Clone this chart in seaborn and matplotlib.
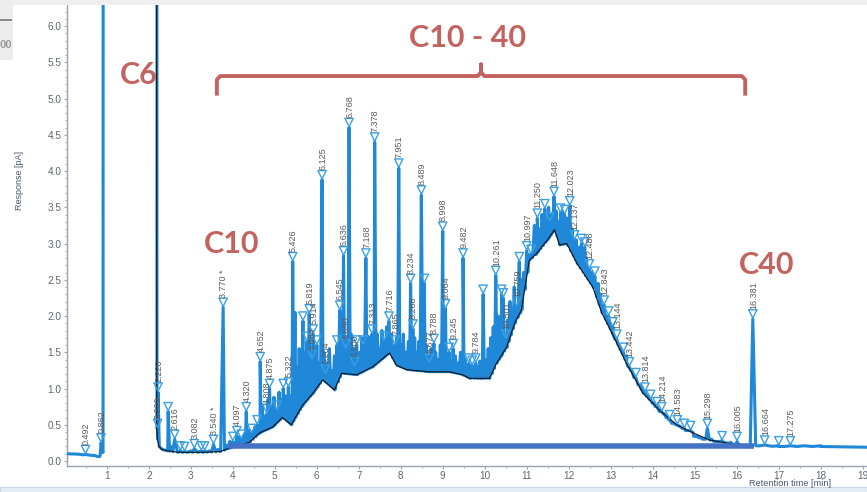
import numpy as np
import pandas as pd
import matplotlib
matplotlib.use("Agg")
import matplotlib.pyplot as plt
import matplotlib.transforms as mtransforms
from matplotlib import font_manager
from matplotlib.patches import Rectangle
import seaborn as sns

# ---------------------------------------------------------------------------
# Chromatogram data (retention time in min, response in pA)
# ---------------------------------------------------------------------------
# Valley line / integration baseline under the signal
floor_t = [0.05, 0.30, 0.45, 0.60, 0.72, 0.78, 0.84, 0.91, 0.925, 2.175, 2.185,
           2.20, 2.215, 2.25, 2.32, 2.45, 2.70, 3.30, 3.70, 3.80, 3.94, 4.20,
           4.41, 4.65, 4.96, 5.19, 5.36, 5.40, 5.67, 5.91, 6.15, 6.43, 6.60,
           6.96, 7.34, 7.74, 7.91, 8.15, 8.69, 9.17, 9.48, 9.65, 10.12, 10.29,
           10.53, 10.72, 10.88, 11.07, 11.24, 11.50, 11.67, 11.79, 11.96, 12.20,
           12.58, 12.79, 13.05, 13.38, 13.77, 14.17, 14.58, 14.96, 15.36, 15.84,
           16.24, 16.32, 16.45, 17.00, 18.00, 19.10]
floor_y = [0.10, 0.095, 0.085, 0.08, 0.075, 0.06, 0.065, 0.12, 40.0, 40.0, 40.0,
           0.45, 0.30, 0.20, 0.16, 0.14, 0.12, 0.12, 0.13, 0.15, 0.18, 0.22,
           0.26, 0.39, 0.47, 0.60, 0.52, 0.50, 0.77, 0.93, 1.12, 0.98, 1.21,
           1.19, 1.30, 1.49, 1.32, 1.26, 1.23, 1.23, 1.19, 1.14, 1.14, 1.35,
           1.57, 1.90, 2.08, 2.77, 2.86, 3.05, 3.19, 2.98, 3.00, 2.73,
           2.40, 2.05, 1.75, 1.35, 0.94, 0.70, 0.50, 0.39, 0.29, 0.24,
           0.20, 0.20, 0.21, 0.20, 0.20, 0.19]

# Peaks reported with a retention-time label
peak_label = ["0.492", "0.862", "2.209", "2.220", "2.616", "3.082", "3.540 *",
              "3.770 *", "4.097", "4.320", "4.652", "4.808", "4.875", "5.322",
              "5.426", "5.819", "5.884", "5.914", "6.125", "6.204", "6.545",
              "6.636", "6.690", "6.768", "6.900", "7.168", "7.313", "7.378",
              "7.716", "7.865", "7.951", "8.234", "8.288", "8.489", "8.677",
              "8.788", "8.998", "9.064", "9.245", "9.482", "9.784", "10.261",
              "10.501", "10.759", "10.997", "11.250", "11.648", "12.023",
              "12.137", "12.488", "12.843", "13.144", "13.442", "13.814",
              "14.214", "14.583", "15.298", "16.005", "16.381", "16.664",
              "17.275"]
peak_h = [0.09, 0.25, 0.45, 0.95, 0.30, 0.17, 0.23,
          2.12, 0.35, 0.68, 1.37, 0.65, 1.00, 1.02,
          2.75, 2.03, 1.40, 1.75, 3.88, 1.20, 2.08,
          2.83, 1.55, 4.60, 1.30, 2.80, 1.75, 4.40,
          1.93, 1.60, 4.04, 2.45, 1.82, 3.67, 1.35,
          1.62, 3.17, 2.10, 1.55, 2.80, 1.35, 2.56,
          1.68, 2.13, 2.90, 3.35, 3.65, 3.52,
          3.05, 2.65, 2.15, 1.68, 1.30, 0.95,
          0.68, 0.50, 0.45, 0.27, 1.96, 0.22,
          0.21]

# Peaks flagged by the integrator without a readable label
flag_t = [2.46, 2.75, 2.85, 3.25, 3.33, 4.00, 4.20, 4.45, 4.58, 5.05, 5.20,
          5.67, 5.76, 6.00, 6.48, 6.95, 7.10, 7.60, 8.56, 9.15, 9.62, 9.70,
          9.96, 10.40, 10.44, 10.82, 11.10, 11.43, 11.55, 11.80, 11.90, 12.30,
          12.38, 12.62, 12.95, 13.05, 13.30, 13.60, 13.95, 14.10, 14.40, 14.75,
          14.90, 15.65, 17.00]
flag_h = [0.68, 0.14, 0.13, 0.14, 0.14, 0.27, 0.30, 0.38, 0.50, 0.70, 1.00,
          1.93, 1.65, 1.60, 1.60, 1.60, 1.60, 1.65, 2.45, 1.50, 1.35, 1.32,
          2.30, 2.30, 2.25, 2.75, 2.85, 3.48, 3.30, 3.42, 3.40, 3.00,
          2.95, 2.55, 2.00, 1.85, 1.50, 1.15, 0.85, 0.75, 0.57, 0.45,
          0.42, 0.28, 0.21]

# Off-scale peaks (unretained compounds and C6 solvent front)
offscale_t = [0.95, 1.50, 2.18]
offscale_h = [40.0, 40.0, 40.0]

# Minor, unflagged peaks of the unresolved hump
minor_t = [2.53, 3.00, 3.45, 3.65, 3.86, 3.93, 4.05, 4.15, 4.27, 4.38, 4.52,
           4.70, 4.75, 4.84, 4.93, 4.98, 5.10, 5.16, 5.25, 5.30, 5.36, 5.39,
           5.48, 5.52, 5.58, 5.63, 5.72, 5.95, 6.05, 6.17, 6.25, 6.30, 6.36,
           6.42, 6.58, 6.72, 6.82, 6.86, 7.02, 7.07, 7.22, 7.27, 7.35, 7.44,
           7.50, 7.55, 7.66, 7.78, 7.83, 7.90, 8.00, 8.06, 8.12, 8.18, 8.33,
           8.38, 8.43, 8.60, 8.64, 8.72, 8.83, 8.90, 8.94, 9.03, 9.10, 9.20,
           9.30, 9.36, 9.42, 9.53, 9.58, 9.82, 9.88, 9.92, 10.02, 10.08, 10.14,
           10.20, 10.32, 10.37, 10.55, 10.60, 10.65, 10.70, 10.86, 10.92,
           11.05, 11.18, 11.30, 11.36, 11.48, 11.52, 11.60, 11.70, 11.75,
           11.85, 11.95, 12.08, 12.18, 12.25, 12.42, 12.55, 12.70, 12.75,
           12.90, 13.02, 13.20, 13.25, 13.38, 13.50, 13.70, 13.75, 13.88,
           14.02, 14.28, 14.35, 14.50, 14.65, 14.80, 15.05, 15.15, 15.22,
           15.40, 15.50, 15.75, 15.85, 15.95, 16.10, 16.20, 17.60, 18.00]
minor_h = [0.20, 0.14, 0.14, 0.16, 0.22, 0.27, 0.25, 0.33, 0.36, 0.42, 0.47,
           0.78, 0.62, 0.85, 0.75, 0.88, 0.95, 0.85, 0.90, 0.75, 0.62, 0.90,
           2.05, 1.30, 1.55, 1.20, 1.50, 1.45, 1.35, 1.50, 1.35, 1.55, 1.25,
           1.45, 1.75, 1.70, 1.75, 1.55, 1.50, 1.70, 1.72, 1.55, 1.60, 1.75,
           1.55, 1.80, 1.85, 1.75, 1.55, 1.70, 1.60, 1.75, 1.50, 1.65, 1.70,
           1.50, 1.65, 1.60, 1.45, 1.55, 1.50, 1.40, 1.60, 1.50, 1.45, 1.35,
           1.45, 1.35, 1.50, 1.40, 1.30, 1.30, 1.38, 1.28, 1.40, 1.55, 1.70,
           1.85, 2.00, 1.85, 1.95, 2.20, 2.10, 2.40, 2.50, 2.60,
           2.85, 3.25, 3.20, 3.40, 3.30, 3.50, 3.40, 3.45, 3.30,
           3.45, 3.35, 3.20, 3.05, 2.95, 2.80, 2.60, 2.45, 2.30,
           2.00, 1.85, 1.60, 1.55, 1.45, 1.25, 1.05, 1.02, 0.90,
           0.80, 0.65, 0.60, 0.52, 0.48, 0.42, 0.34, 0.32, 0.30,
           0.30, 0.27, 0.25, 0.26, 0.23, 0.22, 0.21, 0.21, 0.21]

# Axis ticks
y_ticks = [0.0, 0.5, 1.0, 1.5, 2.0, 2.5, 3.0, 3.5, 4.0, 4.5, 5.0, 5.5, 6.0]
x_ticks = list(range(1, 20))

# Carbon-range callouts
callout_text = ["C6", "C10 - 40", "C10", "C40"]
callout_t = [1.75, 9.58, 3.96, 16.72]
callout_y = [5.32, 5.83, 3.00, 2.70]
bracket_span = (3.62, 16.20)      # C10 - C40 bracket, min
bracket_tip = 9.91
integration_span = (3.89, 16.40)  # integrated window
integration_level = 0.20

# ---------------------------------------------------------------------------
# Assemble the detector trace
# ---------------------------------------------------------------------------
peak_t = [float(s.split()[0]) for s in peak_label]
apex = pd.DataFrame({
    "t": peak_t + flag_t + offscale_t + minor_t,
    "y": peak_h + flag_h + offscale_h + minor_h,
}).sort_values("t").reset_index(drop=True)

mid = ((apex["t"].values[:-1] + apex["t"].values[1:]) / 2)
valley_y = np.minimum.reduce([
    np.interp(mid, floor_t, floor_y),
    apex["y"].values[:-1], apex["y"].values[1:]])
valleys = pd.DataFrame({"t": mid, "y": valley_y})
floor_pts = pd.DataFrame({"t": floor_t, "y": floor_y})
trace = (pd.concat([apex, valleys, floor_pts])
         .sort_values("t", kind="mergesort").reset_index(drop=True))

# ---------------------------------------------------------------------------
# Styling
# ---------------------------------------------------------------------------
sns.set_style("ticks")
names = {f.name for f in font_manager.fontManager.ttflist}
narrow = "Liberation Sans Narrow" if "Liberation Sans Narrow" in names else "Liberation Sans"
plt.rcParams["font.family"] = ["Liberation Sans", "DejaVu Sans"]

trace_blue = "#1f88d8"
marker_blue = "#3aa0e6"
axis_grey = "#9aa3b5"
tick_grey = "#5f6670"
callout_red = "#c4625f"

fig = plt.figure(figsize=(8.67, 4.92), dpi=100)
fig.patch.set_facecolor("white")
ax = fig.add_axes([67 / 867, 1 - 466 / 492, 800 / 867, 461 / 492])

# window-frame remnants around the plot
fig.patches.append(Rectangle((0, 1 - 5 / 492), 1, 5 / 492, transform=fig.transFigure,
                             facecolor="#efefef", edgecolor="none", zorder=0))
fig.patches.append(Rectangle((0, 1 - 60 / 492), 13 / 867, 60 / 492, transform=fig.transFigure,
                             facecolor="#ececec", edgecolor="none", zorder=0))
fig.patches.append(Rectangle((0, 1 - 21 / 492), 12 / 867, 2 / 492, transform=fig.transFigure,
                             facecolor="#8a8a8a", edgecolor="none", zorder=1))
fig.text(0 / 867, 1 - 45 / 492, "00", ha="left", va="center", fontsize=8,
         color="#9a9a9a", fontweight="bold")
fig.patches.append(Rectangle((0, 0), 1, 5 / 492, transform=fig.transFigure,
                             facecolor="#e4ecf4", edgecolor="#c9d5e2", lw=0.8, zorder=0))

# signal trace
sns.lineplot(data=trace, x="t", y="y", ax=ax, estimator=None, sort=False,
             color=trace_blue, lw=2.2, zorder=3)

# integration baseline / drop lines
floor_df = floor_pts[(floor_pts["t"] >= 2.18) & (floor_pts["t"] <= 16.3)]
ax.plot(floor_df["t"] - 0.01, floor_df["y"], color="#111111", lw=0.8, zorder=4)

# integration window bar
ax.plot(integration_span, [integration_level] * 2, color="#4472c4", lw=4.0,
        solid_capstyle="butt", zorder=5)

# peak markers and retention-time labels
mk_tr = mtransforms.offset_copy(ax.transData, fig=fig, x=0, y=5, units="dots")
ax.scatter(peak_t + flag_t, peak_h + flag_h, marker="v", s=36, facecolors="none",
           edgecolors=marker_blue, linewidths=1.0, transform=mk_tr, zorder=6, clip_on=True)
for lab, t, h in zip(peak_label, peak_t, peak_h):
    ax.annotate(lab, (t, h), xytext=(0.5, 7), textcoords="offset points",
                rotation=90, ha="center", va="bottom", fontsize=6.5,
                family=narrow, color="#5a5a5a", zorder=7, annotation_clip=True)

# carbon range callouts
for txt, t, y in zip(callout_text, callout_t, callout_y):
    ax.text(t, y, txt, ha="center", va="center", fontsize=22, fontweight="bold",
            family=["Lato", "DejaVu Sans"], color=callout_red, zorder=8)
b0, b1 = bracket_span
ax.plot([b0, b0, b0 + 0.08, bracket_tip - 0.08, bracket_tip, bracket_tip,
         bracket_tip, bracket_tip + 0.08, b1 - 0.08, b1, b1],
        [5.04, 5.26, 5.31, 5.31, 5.36, 5.47, 5.36, 5.31, 5.31, 5.26, 5.04],
        color=callout_red, lw=2.8, solid_joinstyle="round", solid_capstyle="butt", zorder=8)

# axes
ax.set_xlim(0.052, 19.1)
ax.set_ylim(-0.069, 6.29)
ax.set_xticks(x_ticks)
ax.set_xticks(np.arange(0.5, 19.1, 1.0), minor=True)
ax.set_yticks(y_ticks)
ax.set_yticks(np.arange(0.0, 6.29, 0.1), minor=True)
ax.set_yticklabels([f"{v:.1f}" for v in y_ticks])
ax.tick_params(axis="both", which="major", length=2.5, width=0.8, color=axis_grey,
               labelsize=7.2, labelcolor=tick_grey, pad=1.5)
ax.tick_params(axis="x", which="major", pad=0.8)
ax.tick_params(axis="both", which="minor", length=1.6, width=0.6, color=axis_grey)
ax.set_xlabel("")
ax.set_ylabel("")
for side in ("top", "right"):
    ax.spines[side].set_visible(False)
for side in ("left", "bottom"):
    ax.spines[side].set_color(axis_grey)
    ax.spines[side].set_linewidth(1.0)

fig.text(20 / 867, 1 - 180 / 492, "Response [pA]", rotation=90, ha="center",
         va="center", fontsize=6.5, color="#4a5670")
fig.text(790 / 867, 1 - 484 / 492, "Retention time [min]", ha="center", va="center",
         fontsize=6.6, color="#4a5670")

fig.savefig("out.png", dpi=100)
